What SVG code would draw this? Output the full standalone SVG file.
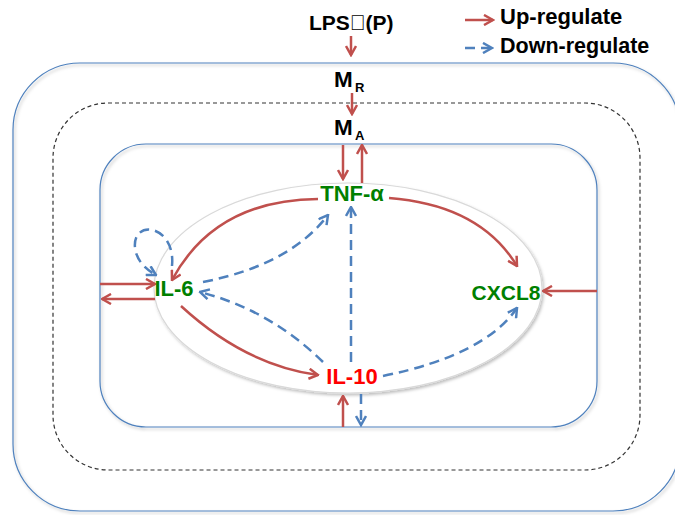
<svg xmlns="http://www.w3.org/2000/svg" width="675" height="515" viewBox="0 0 675 515">
<style>
text{font-family:"Liberation Sans",Arial,sans-serif;font-weight:bold}
.blk{fill:#000}
.grn{fill:#008000}
.red{fill:#FF0000}
.up{fill:none;stroke:#C0504D;stroke-width:2.5;marker-end:url(#mr)}
.dn{fill:none;stroke:#4F81BD;stroke-width:2.5;stroke-dasharray:10 6;marker-end:url(#mb)}
.box{fill:none;stroke:#4F81BD;stroke-width:1.2}
</style>
<defs>
<filter id="sh" x="-10%" y="-10%" width="120%" height="130%">
<feDropShadow dx="1.5" dy="2" stdDeviation="1.5" flood-color="#000" flood-opacity="0.25"/>
</filter>
<marker id="mr" viewBox="0 0 12 12" refX="10.5" refY="6" markerWidth="12" markerHeight="12" markerUnits="userSpaceOnUse" orient="auto">
<path d="M1.5,1 L10.5,6 L1.5,11" fill="none" stroke="#C0504D" stroke-width="2.5" stroke-dasharray="none" stroke-linejoin="miter"/>
</marker>
<marker id="mb" viewBox="0 0 12 12" refX="10.5" refY="6" markerWidth="12" markerHeight="12" markerUnits="userSpaceOnUse" orient="auto">
<path d="M1.5,1 L10.5,6 L1.5,11" fill="none" stroke="#4F81BD" stroke-width="2.5" stroke-dasharray="none" stroke-linejoin="miter"/>
</marker>
</defs>
<rect width="675" height="515" fill="#fff"/>
<g id="compartments">
<rect class="box" x="13" y="63" width="667" height="448" rx="67" ry="67" filter="url(#sh)"/>
<rect x="53" y="103" width="587" height="367" rx="55" ry="55" fill="none" stroke="#333" stroke-width="1.2" stroke-dasharray="4 3"/>
<rect class="box" x="100" y="144" width="497" height="283" rx="46" ry="46" filter="url(#sh)"/>
<ellipse cx="348" cy="288" rx="194" ry="105" fill="#fff" stroke="#d9d9d9" stroke-width="1.2" filter="url(#sh)"/>
</g>
<g id="connectors">
<path class="up" d="M351 36 L351 55"/>
<path class="up" d="M352 93 L352 114"/>
<path class="up" d="M343 145 L343 179"/>
<path class="up" d="M362 183 L362 145"/>
<path class="up" d="M318 199 Q 215 200 172 280"/>
<path class="up" d="M389 198 Q 480 205 517 266"/>
<path class="up" d="M181 306 Q 245 365 318 375"/>
<path class="up" d="M100 284 L155 284"/>
<path class="up" d="M155 299 L102 299"/>
<path class="up" d="M597 291 L543 291"/>
<path class="up" d="M343 427 L343 396"/>
<path class="dn" d="M361 394 L361 425"/>
<path class="dn" d="M203 282 Q 290 265 328 215"/>
<path class="dn" d="M323 362 Q 270 310 200 292"/>
<path class="dn" d="M351 362 L351 207"/>
<path class="dn" d="M383 376 Q 485 355 517 308"/>
<path class="dn" d="M172 266 C 176 225, 132 218, 135 248 C 137 262, 147 270, 156 275"/>
</g>
<g id="legend">
<path class="up" d="M465 20 L493 20"/>
<path class="dn" d="M465 48 L492 48"/>
<text class="blk" x="500" y="24" font-size="22">Up-regulate</text>
<text class="blk" x="500" y="53" font-size="21.5">Down-regulate</text>
</g>
<g id="LPS"><text class="blk" x="309" y="30" font-size="21">LPS&#xF0AE;(P)</text></g>
<g id="MR"><text class="blk" x="334" y="87" font-size="22.5">M<tspan font-size="13" x="355" y="92">R</tspan></text></g>
<g id="MA"><text class="blk" x="334" y="135" font-size="22.5">M<tspan font-size="13" x="355" y="140">A</tspan></text></g>
<g id="TNF"><text class="grn" x="352" y="201" font-size="22" text-anchor="middle">TNF-α</text></g>
<g id="IL6"><text class="grn" x="174" y="296" font-size="22" text-anchor="middle">IL-6</text></g>
<g id="CXCL8"><text class="grn" x="506" y="300" font-size="21" text-anchor="middle">CXCL8</text></g>
<g id="IL10"><text class="red" x="352" y="384" font-size="22" text-anchor="middle">IL-10</text></g>
</svg>
